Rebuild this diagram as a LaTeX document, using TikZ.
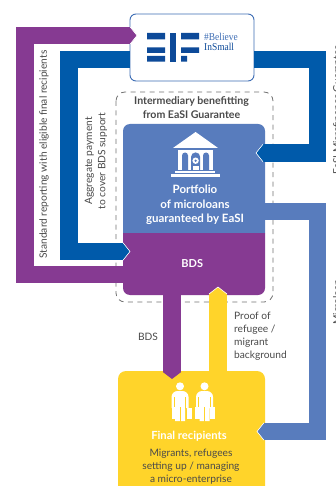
\documentclass[tikz,border=0pt]{standalone}
\usepackage{fontspec}
\setmainfont{Lato}
\newfontfamily\logoserif{Liberation Serif}
\usetikzlibrary{arrows.meta}
\definecolor{cPurple}{HTML}{863A92}
\definecolor{cBlue}{HTML}{005AAA}
\definecolor{cLight}{HTML}{587CBD}
\definecolor{cYellow}{HTML}{FFD42A}
\definecolor{cLogo}{HTML}{0D4A99}
\definecolor{cEdge}{HTML}{3D6DB5}
\definecolor{cText}{HTML}{4A4A4A}
\tikzset{
  conn/.style={line width=17.5pt,line join=miter,-{Triangle[length=7pt,width=17.5pt]}},
  tipedge/.style={draw=white,line width=.6pt,line join=miter},
  lbl/.style={text=cText,font=\fontsize{10.2}{13.2}\selectfont,inner sep=0pt,align=center},
  lblb/.style={lbl,font=\fontsize{10.6}{13.2}\selectfont\bfseries},
  wht/.style={text=white,font=\fontsize{11.5}{14.6}\selectfont\bfseries,inner sep=0pt,align=center},
}
\newcommand{\personicon}[1]{%
  \begin{scope}[shift={(#1,0)}]
    \fill[white] (0,386.3) circle (4);
    \fill[white] (-8.5,408) -- (-8.5,397) arc[start angle=180,end angle=270,radius=6] -- (2.5,391)
       arc[start angle=270,end angle=360,radius=6] -- (8.5,408) -- (5,408) -- (5,421) -- (-5,421) -- (-5,408) -- cycle;
    \fill[cYellow] (-6.4,397) rectangle (-5.2,409);
    \fill[cYellow] (5.2,397) rectangle (6.4,409);
    \fill[cYellow] (-.5,407) rectangle (.5,421.5);
  \end{scope}}
\begin{document}
\begin{tikzpicture}[x=1pt,y=-1pt]
\useasboundingbox (0,0) rectangle (335,486);
\clip (0,0) rectangle (335,486);
\fill[white] (0,0) rectangle (335,486);
% dashed frame
\draw[draw=black!55,line width=.8pt,dash pattern=on 5pt off 4.5pt,rounded corners=9pt] (116,92) rectangle (273,302);
% main box
\fill[cLight] (123,233) [rounded corners=7pt]-- (123,124) -- (265,124) [sharp corners]-- (265,233) -- cycle;
\fill[cPurple] (123,233) [rounded corners=7pt]-- (123,295) -- (265,295) [sharp corners]-- (265,233) -- cycle;
\node[minimum width=142pt,minimum height=109pt,inner sep=0pt] (portfolio) at (194,178.5) {};
\node[minimum width=142pt,minimum height=62pt,inner sep=0pt] (bds) at (194,264) {};
% boxes
\node[draw=cEdge,fill=white,line width=.9pt,rounded corners=6pt,minimum width=124pt,minimum height=67pt,inner sep=0pt] (eif) at (192,47.5) {};
\node[fill=cYellow,rounded corners=8pt,minimum width=147pt,minimum height=135pt,inner sep=0pt] (final) at (191.5,438.5) {};
% connectors
\coordinate (pA) at (24.75,274.5); \coordinate (pB) at (24.75,35.5); \coordinate (pTip) at (137,35.5);
\coordinate (aA) at (68.75,59.75); \coordinate (aB) at (68.75,251.5); \coordinate (aTip) at (130,251.5);
\coordinate (gA) at (317.5,59.75); \coordinate (gB) at (317.5,153); \coordinate (gTip) at (256,153);
\coordinate (mA) at (317.5,211.5); \coordinate (mB) at (317.5,431.5); \coordinate (mTip) at (257,431.5);
\coordinate (dTip) at (172,379); \coordinate (yTip) at (218,287);
\draw[conn,cPurple] (bds.west |- pA) -- (pA) -- (pB) -- (pTip);
\draw[conn,cBlue] (eif.west |- aA) -- (aA) -- (aB) -- (aTip);
\draw[conn,cBlue] (eif.east |- gA) -- (gA) -- (gB) -- (gTip);
\draw[conn,cLight] (portfolio.east |- mA) -- (mA) -- (mB) -- (mTip);
\draw[conn,cPurple,line width=18pt,-{Triangle[length=7pt,width=18pt]}] (dTip |- bds.south) -- (dTip);
\draw[conn,cYellow,line width=18pt,-{Triangle[length=7pt,width=18pt]}] (yTip |- final.north) -- (yTip);
\draw[tipedge] ([shift={(-7,-8.75)}]pTip) -- (pTip) -- ([shift={(-7,8.75)}]pTip);
\draw[tipedge] ([shift={(-7,-8.75)}]aTip) -- (aTip) -- ([shift={(-7,8.75)}]aTip);
\draw[tipedge] ([shift={(7,-8.75)}]gTip) -- (gTip) -- ([shift={(7,8.75)}]gTip);
\draw[tipedge] ([shift={(7,-8.75)}]mTip) -- (mTip) -- ([shift={(7,8.75)}]mTip);
\draw[tipedge] ([shift={(-9,7)}]yTip) -- (yTip) -- ([shift={(9,7)}]yTip);
% EIF logo
\fill[cLogo] (147,33) rectangle (165,39.3) (147,47.3) rectangle (165,53) (147,56) rectangle (165,61.7);
\fill[cLogo] (170,33) rectangle (175.7,61.7);
\fill[cLogo] (181,33) rectangle (199,39.3) (181,47.3) rectangle (199,53) (181,56) rectangle (187,61.7);
\node[anchor=west,text=cEdge,inner sep=0pt,font=\logoserif\fontsize{10.5}{10.5}\selectfont,xscale=.9] (believe) at (204,37) {\#Believe};
\node[anchor=west,text=cLogo,inner sep=0pt,font=\logoserif\fontsize{10.5}{10.5}\selectfont,xscale=.9] (insmall) at (204,46.8) {InSmall};
% bank icon
\fill[white] (195.6,132) -- (218,148) -- (173,148) -- cycle;
\fill[white] (178,150.5) rectangle (213,170);
\fill[cLight] (182,170) -- (182,155.5) arc[start angle=180,end angle=360,radius=3] -- (188,170) -- cycle;
\fill[cLight] (203,170) -- (203,155.5) arc[start angle=180,end angle=360,radius=3] -- (209,170) -- cycle;
\fill[cLight] (191,170) -- (191,157) arc[start angle=180,end angle=360,radius=4.6] -- (200.2,170) -- cycle;
\fill[white] (195.6,160.7) circle (3.2);
\fill[cLight] (195.6,160.7) circle (1.2);
\fill[white] (192.5,166) rectangle (198.7,170);
\fill[white] (175,171.3) rectangle (215,173.3);
\fill[white] (171,174) rectangle (220,177);
% people icon
\personicon{180}
\personicon{204.5}
\fill[white] (172,407) rectangle (177.3,418.7);
\fill[white] (186.7,408) rectangle (192,418.7);
\fill[white] (195,406.5) rectangle (200,418.7);
\fill[white] (210,406.5) rectangle (215,419);
% texts
\node[lblb] (intermediary) at (191.5,107.5) {Intermediary benefitting\\from EaSI Guarantee};
\node[wht] (portfoliotxt) at (195,205) {Portfolio\\of microloans\\guaranteed by EaSI};
\node[wht,font=\fontsize{11}{14}\selectfont\bfseries] (bdstxt) at (192.3,264) {BDS};
\node[lbl] (bdslbl) at (148,337) {BDS};
\node[lbl,align=left,anchor=north west] (proof) at (234,311.5) {Proof of\\refugee /\\migrant\\background};
\node[wht,font=\fontsize{11.2}{14}\selectfont\bfseries] (finaltxt) at (189,436) {Final recipients};
\node[lbl,font=\fontsize{10.2}{13}\selectfont] (finaldesc) at (191,467) {Migrants, refugees\\setting up / managing\\a micro-enterprise};
\node[lbl,rotate=90] (standard) at (44,154.5) {Standard reporting with eligible final recipients};
\node[lbl,rotate=90] (aggregate) at (96,161) {Aggregate payment\\to cover BDS support};
\node[lbl,rotate=90,anchor=west] (easi) at (337,175) {EaSI Microfinance Guarantee};
\node[lbl,rotate=90,anchor=west] (micro) at (337,325) {Microloan};
\end{tikzpicture}
\end{document}
